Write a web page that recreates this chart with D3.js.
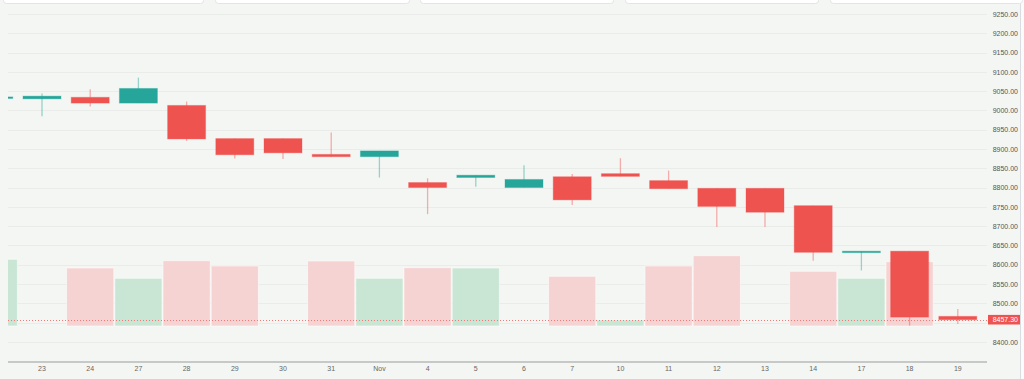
<!DOCTYPE html>
<html><head><meta charset="utf-8">
<script src="https://cdn.jsdelivr.net/npm/d3@7"></script>
<style>html,body{margin:0;padding:0;background:#f4f6f3;overflow:hidden}</style>
</head><body>
<svg id="chart" width="1024" height="379"></svg>
<script>
const categories = ["22","23","24","27","28","29","30","31","Nov","4","5","6","7","10","11","12","13","14","17","18","19"];
const openVals  = [9031,9030,9034,9019,9013,8927,8927,8886,8880,8813,8826,8800,8828,8836,8818,8798,8798,8753,8632,8635,8466];
const highVals  = [9036,9044,9055,9085,9023,8927,8927,8943,8895,8824,8832,8858,8835,8876,8844,8798,8798,8753,8635,8635,8485];
const lowVals   = [9030,8985,9010,9019,8921,8875,8874,8880,8826,8731,8802,8800,8755,8829,8797,8698,8698,8610,8585,8442,8446];
const closeVals = [9035,9037,9019,9057,8926,8885,8890,8880,8895,8800,8832,8821,8768,8829,8797,8751,8736,8632,8635,8464,8457.3];
const volumes   = [66.7,0,58,47.7,65.3,60,0,65,47.7,58.3,58,0,49.7,6,60,70.3,0,54.7,47.7,64.3,0];
const priceTicks = d3.range(8400, 9251, 50);
const lastPrice = 8457.30;

const W = 1024, H = 379;
const plotL = 8, plotR = 987, plotT = 0, axisY = 362;
const svg = d3.select("#chart");
const UP = "#26a69a", DOWN = "#ef5350";

svg.append("rect").attr("width", W).attr("height", H).attr("fill", "#f4f6f3");
svg.append("rect").attr("x", 1020.5).attr("y", 0).attr("width", 4).attr("height", H).attr("fill", "#fbfbfb");
svg.append("line").attr("x1", 1020.5).attr("x2", 1020.5).attr("y1", 0).attr("y2", H).attr("stroke", "#d9dce1").attr("stroke-width", 1);

const step = 48.2;
const x = d3.scaleBand().domain(categories).range([-30.3, -30.3 + step * categories.length]).padding(0);
const y = d3.scaleLinear().domain([8400, 9250]).range([341.8, 14]);
const vY = d3.scaleLinear().domain([0, 100]).range([326, 226]);

svg.append("defs").append("clipPath").attr("id", "plotclip")
  .append("rect").attr("x", plotL).attr("y", plotT).attr("width", plotR - plotL).attr("height", axisY - plotT);

// grid
svg.append("g").selectAll("line").data(priceTicks).join("line")
  .attr("x1", plotL).attr("x2", plotR)
  .attr("y1", d => Math.round(y(d)) + 0.5).attr("y2", d => Math.round(y(d)) + 0.5)
  .attr("stroke", "#eaecea").attr("stroke-width", 1);

const plot = svg.append("g").attr("clip-path", "url(#plotclip)");

// volume
const volUp = categories.map((c, i) => i === 0 ? true : closeVals[i] >= closeVals[i - 1]);
plot.append("g").selectAll("rect").data(categories).join("rect")
  .filter((d, i) => volumes[i] > 0)
  .attr("x", d => x(d) + 0.5)
  .attr("width", x.bandwidth() - 1)
  .attr("y", d => vY(volumes[categories.indexOf(d)]))
  .attr("height", d => vY(0) - vY(volumes[categories.indexOf(d)]))
  .attr("fill", d => volUp[categories.indexOf(d)] ? "#c9e6d5" : "#f5d3d2")
  .attr("stroke", "rgba(255,255,255,0.55)").attr("stroke-width", 1);

// last price dotted line
const lpY = Math.round(y(lastPrice)) + 0.5;
plot.append("line").attr("x1", plotL).attr("x2", plotR)
  .attr("y1", lpY).attr("y2", lpY)
  .attr("stroke", "#f07a77").attr("stroke-width", 1).attr("stroke-dasharray", "1,2");

// candles
const bodyW = 38;
const cg = plot.append("g");
categories.forEach((c, i) => {
  const cx = x(c) + x.bandwidth() / 2;
  const up = closeVals[i] >= openVals[i];
  const col = up ? UP : DOWN;
  cg.append("line").attr("x1", cx).attr("x2", cx)
    .attr("y1", y(highVals[i])).attr("y2", y(lowVals[i]))
    .attr("stroke", col).attr("stroke-opacity", 0.45).attr("stroke-width", 1.3);
  const top = y(Math.max(openVals[i], closeVals[i]));
  const bot = y(Math.min(openVals[i], closeVals[i]));
  const h = Math.max(1.5, bot - top);
  cg.append("rect").attr("x", cx - bodyW / 2).attr("width", bodyW)
    .attr("y", top).attr("height", h).attr("fill", col)
    .attr("stroke", col).attr("stroke-opacity", 0.35).attr("stroke-width", 1);
});

// x axis
svg.append("line").attr("x1", plotL).attr("x2", plotR).attr("y1", axisY).attr("y2", axisY)
  .attr("stroke", "#9a9c9e").attr("stroke-width", 1.2);
const xAxis = d3.axisBottom(x).tickSize(0).tickPadding(4);
const xg = svg.append("g").attr("transform", `translate(0,${axisY})`).call(xAxis);
xg.select(".domain").remove();
xg.selectAll("text").attr("font-family", "Liberation Sans, Arial, sans-serif").attr("font-size", 7).attr("fill", "#666");
xg.selectAll(".tick").filter(d => x(d) + x.bandwidth() / 2 < plotL).remove();

// y axis (label hidden where the last-price tag sits)
const yAxis = d3.axisLeft(y).tickValues(priceTicks.filter(t => Math.abs(y(t) - y(lastPrice)) > 9))
  .tickFormat(d3.format(".2f")).tickSize(0).tickPadding(0);
const yg = svg.append("g").attr("transform", "translate(1018,0)").call(yAxis);
yg.select(".domain").remove();
yg.selectAll("text").attr("font-family", "Liberation Sans, Arial, sans-serif").attr("font-size", 7).attr("fill", "#555");

// last price label
svg.append("rect").attr("x", 988).attr("y", y(lastPrice) - 4.8).attr("width", 32).attr("height", 9.6).attr("fill", DOWN);
svg.append("text").attr("x", 1018).attr("y", y(lastPrice)).attr("dy", "0.34em")
  .attr("text-anchor", "end").attr("font-family", "Liberation Sans, Arial, sans-serif").attr("font-size", 7)
  .attr("fill", "#fff").text(d3.format(".2f")(lastPrice));

// top cards (page chrome)
const cards = [[3,203],[215,409],[420,613],[625,818],[830,1022]];
svg.append("g").selectAll("rect").data(cards).join("rect")
  .attr("x", d => d[0] + 0.5).attr("y", -6).attr("width", d => d[1] - d[0]).attr("height", 9.5)
  .attr("rx", 3).attr("fill", "#ffffff").attr("stroke", "#e3e5e3").attr("stroke-width", 1);
</script>
</body></html>
